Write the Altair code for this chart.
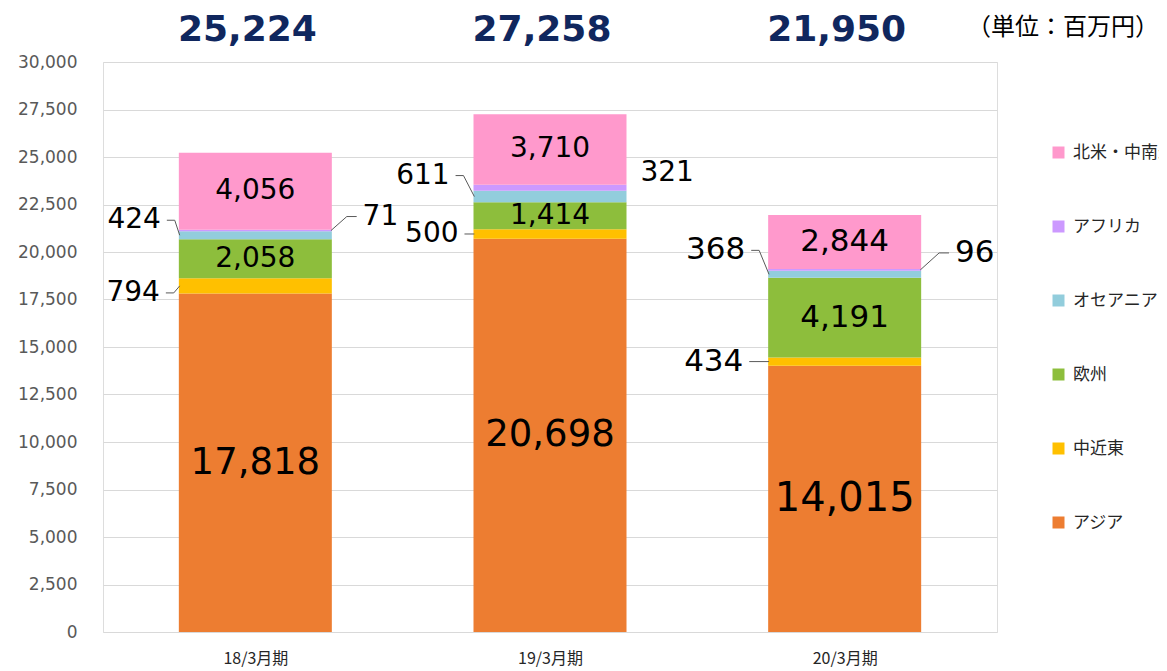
import json
import altair as alt
import pandas as pd

# ---------------- data ----------------
periods = ["18/3月期", "19/3月期", "20/3月期"]
regions = ["アジア", "中近東", "欧州", "オセアニア", "アフリカ", "北米・中南米"]  # bottom -> top
asia = [17818, 20698, 14015]
mideast = [794, 500, 434]
europe = [2058, 1414, 4191]
oceania = [424, 611, 368]
africa = [71, 321, 96]
namerica = [4056, 3710, 2844]
totals = [25224, 27258, 21950]
unit_label = ["（単位：百万円）"]

series = [asia, mideast, europe, oceania, africa, namerica]
colors = ["#ED7D31", "#FFC000", "#8DBE3C", "#92CDDC", "#CC99FF", "#FF99CC"]

# ---------------- layout (styles, not data) ----------------
W, H = 894, 570
YMAX = 30000
UX = 3.0 / W          # x data units per pixel
UY = YMAX / H         # y data units per pixel
BAR = 153
HALF = BAR / 2 * UX

inside = {"アジア", "欧州", "北米・中南米"}
# (side, elbow dx px, dy px (up), horizontal length px)
leaders = {
    (0, "中近東"): (-1, 6, -7, 8),
    (0, "オセアニア"): (-1, 5, 15, 8),
    (0, "アフリカ"): (1, 16, 14, 10),
    (1, "中近東"): (-1, 0, 0, 10),
    (1, "オセアニア"): (-1, 11, 21, 8),
    (1, "アフリカ"): (1, 15, 15, 0),
    (2, "中近東"): (-1, 0, 0, 20),
    (2, "オセアニア"): (-1, 10, 24, 8),
    (2, "アフリカ"): (1, 19, 17, 10),
}
base_fs = {0: 28, 1: 28, 2: 31}
big_fs = {0: 37, 1: 37, 2: 40}

# ---------------- build tables ----------------
bars, labels_in, labels_out, lines = [], [], [], []
for i, p in enumerate(periods):
    cum = 0
    for j, r in enumerate(regions):
        v = series[j][i]
        start, end = cum, cum + v
        cum = end
        mid = (start + end) / 2
        bars.append({"x": i, "region": r, "start": start, "end": end, "ord": j})
        if r in inside:
            labels_in.append({"x": i, "y": mid, "t": f"{v:,}",
                              "fs": big_fs[i] if r == "アジア" else base_fs[i]})
        else:
            side, a, dy, h = leaders[(i, r)]
            edge = i + side * HALF
            yl = mid + dy * UY
            gap = 6 if h > 0 else 0
            labels_out.append({"x": edge + side * (a + h + gap) * UX, "y": yl,
                               "t": f"{v:,}", "fs": base_fs[i],
                               "side": "L" if side < 0 else "R"})
            if h > 0:
                key = f"{i}-{r}"
                pts = [(edge, mid), (edge + side * a * UX, yl), (edge + side * (a + h) * UX, yl)]
                for k, (px, py) in enumerate(pts):
                    lines.append({"key": key, "k": k, "x": px, "y": py})

bars_df = pd.DataFrame(bars)
lin_df = pd.DataFrame(labels_in)
lout_df = pd.DataFrame(labels_out)
lines_df = pd.DataFrame(lines)
tot_df = pd.DataFrame({"x": list(range(len(periods))), "t": [f"{t:,}" for t in totals]})
unit_df = pd.DataFrame({"t": unit_label})

label_expr = json.dumps(periods, ensure_ascii=False) + "[datum.value]"

xscale = alt.Scale(domain=[-0.5, 2.5], nice=False, zero=False)
yscale = alt.Scale(domain=[0, YMAX], nice=False)

NUMFONT = "DejaVu Sans"
JPFONT = "Noto Sans CJK JP"

bar_layer = alt.Chart(bars_df).mark_bar(size=BAR).encode(
    x=alt.X("x:Q", scale=xscale,
            axis=alt.Axis(values=[0, 1, 2], labelExpr=label_expr, grid=False, ticks=False,
                          domain=False, title=None, labelFont=JPFONT, labelFontSize=16,
                          labelColor="#262626", labelPadding=18)),
    y=alt.Y("start:Q", scale=yscale,
            axis=alt.Axis(values=list(range(0, 30001, 2500)),
                          labelExpr="format(datum.value, ',.0f')", grid=True,
                          gridColor="#D9D9D9", ticks=False, domain=False, title=None,
                          labelFont=NUMFONT, labelFontSize=17, labelColor="#595959",
                          labelPadding=26)),
    y2="end:Q",
    color=alt.Color("region:N",
                    scale=alt.Scale(domain=list(reversed(regions)), range=list(reversed(colors))),
                    legend=alt.Legend(title=None, orient="none", legendX=947, legendY=82,
                                      symbolType="square", symbolSize=144, symbolStrokeWidth=0,
                                      labelFont=JPFONT, labelFontSize=17, labelColor="#262626",
                                      rowPadding=56, labelOffset=6, padding=0, labelLimit=300)),
    order=alt.Order("ord:Q"),
)

in_layer = alt.Chart(lin_df).mark_text(font=NUMFONT, color="#000000", baseline="middle").encode(
    x=alt.X("x:Q", scale=xscale), y=alt.Y("y:Q", scale=yscale), text="t:N",
    size=alt.Size("fs:Q", scale=None),
)

out_left = alt.Chart(lout_df).transform_filter("datum.side == 'L'").mark_text(
    font=NUMFONT, color="#000000", baseline="middle", align="right").encode(
    x=alt.X("x:Q", scale=xscale), y=alt.Y("y:Q", scale=yscale), text="t:N",
    size=alt.Size("fs:Q", scale=None),
)
out_right = alt.Chart(lout_df).transform_filter("datum.side == 'R'").mark_text(
    font=NUMFONT, color="#000000", baseline="middle", align="left").encode(
    x=alt.X("x:Q", scale=xscale), y=alt.Y("y:Q", scale=yscale), text="t:N",
    size=alt.Size("fs:Q", scale=None),
)

line_layer = alt.Chart(lines_df).mark_line(color="#595959", strokeWidth=1).encode(
    x=alt.X("x:Q", scale=xscale), y=alt.Y("y:Q", scale=yscale),
    detail="key:N", order="k:Q",
)

tot_layer = alt.Chart(tot_df).mark_text(font=NUMFONT, fontWeight="bold", fontSize=36,
                                        color="#10275E", baseline="middle", dx=-8).encode(
    x=alt.X("x:Q", scale=xscale), y=alt.value(-32), text="t:N",
)

unit_layer = alt.Chart(unit_df).mark_text(font=JPFONT, fontSize=24, color="#000000",
                                          baseline="middle", align="center").encode(
    x=alt.value(960), y=alt.value(-34), text="t:N",
)

chart = alt.layer(bar_layer, line_layer, in_layer, out_left, out_right, tot_layer, unit_layer).properties(
    width=W, height=H,
    autosize=alt.AutoSizeParams(type="none"),
    padding={"left": 95, "top": 54, "right": 162, "bottom": 39},
).configure_view(stroke=None).configure(background="#FFFFFF")

chart.save("out.html", embed_options={"renderer": "svg", "actions": False})
